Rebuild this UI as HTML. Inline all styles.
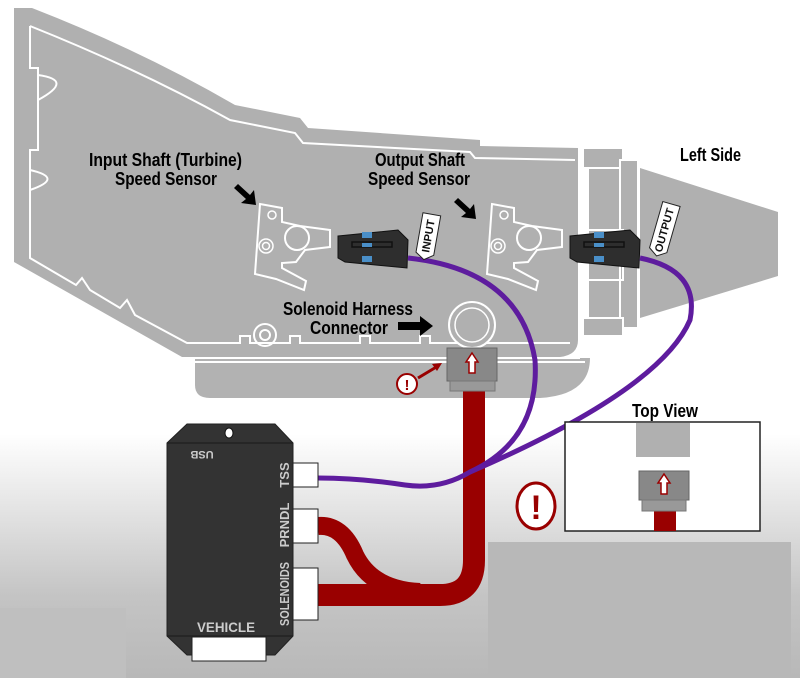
<!DOCTYPE html>
<html><head><meta charset="utf-8"><style>
html,body{margin:0;padding:0;background:#fff}
svg{display:block}
.t{font-family:"Liberation Sans Narrow","Liberation Sans",sans-serif;font-weight:bold}
</style></head><body>
<svg width="800" height="678" viewBox="0 0 800 678" xmlns="http://www.w3.org/2000/svg">
<defs>
<linearGradient id="bg" x1="0" y1="0" x2="0" y2="1">
<stop offset="0" stop-color="#fff"/><stop offset="0.64" stop-color="#fff"/><stop offset="0.88" stop-color="#c4c4c4"/><stop offset="1" stop-color="#b8b8b8"/>
</linearGradient>
<g id="sensor">
<path d="M260,204 L282,208 L282,222 L300,226 L330,230 L330,247 L305,250 L296,262 L282,263 L282,268 L306,281 L304,290 L276,279 L255,274 Z" fill="none" stroke="#fff" stroke-width="2"/>
<circle cx="272" cy="215" r="4" fill="none" stroke="#fff" stroke-width="1.5"/>
<circle cx="266" cy="246" r="7" fill="none" stroke="#fff" stroke-width="1.5"/>
<circle cx="266" cy="246" r="3.5" fill="none" stroke="#fff" stroke-width="1.5"/>
<circle cx="297" cy="238" r="12" fill="#b0b0b0" stroke="#fff" stroke-width="2"/>
<path d="M338,236 L398,230 L408,240 L407,268 L345,262 L338,258 Z" fill="#2e2e2e" stroke="#111" stroke-width="1"/>
<rect x="352" y="242" width="40" height="5" fill="none" stroke="#111" stroke-width="1.5"/>
<rect x="362" y="232" width="10" height="6" fill="#4a8fc8"/>
<rect x="362" y="243" width="10" height="4" fill="#4a8fc8"/>
<rect x="362" y="256" width="10" height="6" fill="#4a8fc8"/>
</g>
</defs>
<rect width="800" height="678" fill="url(#bg)"/>
<rect x="0" y="608" width="126" height="70" fill="#bfbfbf"/>
<rect x="488" y="542" width="303" height="136" fill="#b8b8b8"/>

<path d="M195,358 L590,358 Q590,395 540,398 L210,398 Q195,398 195,385 Z" fill="#b2b2b2"/>
<path d="M640,168 L778,212 L778,276 L640,318 Z" fill="#b0b0b0"/>
<path d="M14,8 L32,8 Q140,50 235,105 L300,118 L308,128 L480,140 L480,146 L578,148 L578,340 Q578,355 560,357 L182,357 L14,262 Z" fill="#b0b0b0"/>
<path d="M30,26 Q140,70 230,120 L295,133 L303,143 L470,152 L475,158 L575,160" fill="none" stroke="#fff" stroke-width="2"/>
<path d="M30,26 L30,68 L38,68 L38,150 L30,150 L30,258 L76,285 L82,278 L90,290 L120,308 L127,300 L135,315 L187,343 L240,343 L240,336 L250,336 L250,343 L290,343 L290,336 L300,336 L300,343 L360,343 L360,336 L370,336 L370,343 L420,343 L420,336 L430,336 L430,343 L570,343" fill="none" stroke="#fff" stroke-width="2"/>
<path d="M38,75 Q75,80 38,100 M30,170 Q65,178 30,190" fill="none" stroke="#fff" stroke-width="2"/>
<path d="M180,358 L580,358 M120,362 L585,362" stroke="#fff" stroke-width="2"/>
<circle cx="265" cy="335" r="11" fill="none" stroke="#fff" stroke-width="2"/>
<circle cx="265" cy="335" r="5" fill="none" stroke="#fff" stroke-width="2"/>
<rect x="583" y="148" width="40" height="20" fill="#b0b0b0" stroke="#fff" stroke-width="2"/>
<rect x="588" y="168" width="32" height="150" fill="#b0b0b0" stroke="#fff" stroke-width="2"/>
<rect x="620" y="160" width="18" height="168" fill="#b0b0b0" stroke="#fff" stroke-width="2"/>
<rect x="583" y="318" width="40" height="18" fill="#b0b0b0" stroke="#fff" stroke-width="2"/>
<rect x="583" y="230" width="40" height="50" fill="none" stroke="#fff" stroke-width="2"/>

<circle cx="472" cy="325" r="23" fill="#b0b0b0" stroke="#fff" stroke-width="2"/>
<circle cx="472" cy="325" r="17" fill="none" stroke="#fff" stroke-width="1.5"/>

<path d="M474,390 L474,560 Q474,595 440,595 L318,595" fill="none" stroke="#990000" stroke-width="22"/>
<path d="M318,526 Q342,524 355,555 Q372,590 420,592" fill="none" stroke="#990000" stroke-width="18"/>

<use href="#sensor"/>
<use href="#sensor" transform="translate(232,0)"/>

<path d="M408,258 Q520,270 535,360 Q540,440 470,472" fill="none" stroke="#5e1c9e" stroke-width="5"/>
<path d="M640,258 Q700,270 690,320 Q660,390 470,472 Q440,490 405,485 Q360,478 318,478" fill="none" stroke="#5e1c9e" stroke-width="5"/>

<g transform="translate(428,236) rotate(10)"><path d="M-9,-22 L9,-22 L9,18 L0,24 L-9,18 Z" fill="#fff" stroke="#222" stroke-width="1"/><text class="t" transform="rotate(-90)" x="0" y="4" font-size="11" text-anchor="middle" fill="#111">INPUT</text></g>
<g transform="translate(664,230) rotate(16)"><path d="M-9,-27 L9,-27 L9,21 L0,27 L-9,21 Z" fill="#fff" stroke="#222" stroke-width="1"/><text class="t" transform="rotate(-90)" x="0" y="4" font-size="11" text-anchor="middle" fill="#111">OUTPUT</text></g>

<rect x="447" y="348" width="50" height="33" fill="#888" stroke="#666"/>
<rect x="450" y="381" width="45" height="10" fill="#999" stroke="#777"/>
<path d="M472,353 L478,362 L475,362 L475,373 L469,373 L469,362 L466,362 Z" fill="#fff" stroke="#900" stroke-width="1.5"/>
<circle cx="407" cy="384" r="10" fill="#fff" stroke="#900" stroke-width="2"/>
<text class="t" x="407" y="390" font-size="15" text-anchor="middle" fill="#900">!</text>
<path d="M418,378 L438,366" stroke="#900" stroke-width="3"/><path d="M442,363 L432,364 L437,371 Z" fill="#900"/>

<g class="t" font-size="18" fill="#000">
<text x="89" y="166" textLength="153" lengthAdjust="spacingAndGlyphs">Input Shaft (Turbine)</text>
<text x="115" y="185" textLength="102" lengthAdjust="spacingAndGlyphs">Speed Sensor</text>
<text x="375" y="166" textLength="90" lengthAdjust="spacingAndGlyphs">Output Shaft</text>
<text x="368" y="185" textLength="102" lengthAdjust="spacingAndGlyphs">Speed Sensor</text>
<text x="283" y="315" textLength="130" lengthAdjust="spacingAndGlyphs">Solenoid Harness</text>
<text x="310" y="334" textLength="78" lengthAdjust="spacingAndGlyphs">Connector</text>
<text x="680" y="161" textLength="61" lengthAdjust="spacingAndGlyphs">Left Side</text>
<text x="632" y="417" textLength="66" lengthAdjust="spacingAndGlyphs">Top View</text>
</g>
<path d="M238,184 L250,195 L254,190 L256,205 L241,203 L246,199 L234,188 Z" fill="#000"/>
<path d="M458,198 L470,209 L474,204 L476,219 L461,217 L466,213 L454,202 Z" fill="#000"/>
<path d="M398,322 L420,322 L420,316 L433,326 L420,336 L420,330 L398,330 Z" fill="#000"/>

<path d="M187,424 L275,424 L293,443 L293,636 L275,655 L187,655 L167,636 L167,443 Z" fill="#333" stroke="#222"/>
<path d="M167,443 L293,443 M167,636 L293,636" stroke="#222" stroke-width="1.5"/>
<ellipse cx="229" cy="433" rx="4" ry="5" fill="#fff" stroke="#111"/>
<text class="t" font-size="11" fill="#ccc" transform="translate(202,451) rotate(180)" text-anchor="middle">USB</text>
<text class="t" font-size="14" fill="#ccc" x="197" y="632" textLength="58" lengthAdjust="spacingAndGlyphs">VEHICLE</text>
<rect x="293" y="463" width="25" height="24" fill="#fff" stroke="#222"/>
<rect x="293" y="509" width="25" height="34" fill="#fff" stroke="#222"/>
<rect x="293" y="568" width="25" height="52" fill="#fff" stroke="#222"/>
<rect x="192" y="637" width="74" height="24" fill="#fff" stroke="#222"/>
<text class="t" font-size="13" fill="#ccc" transform="translate(289,475) rotate(-90)" text-anchor="middle">TSS</text>
<text class="t" font-size="13" fill="#ccc" transform="translate(289,525) rotate(-90)" text-anchor="middle">PRNDL</text>
<text class="t" font-size="13" fill="#ccc" transform="translate(289,594) rotate(-90)" text-anchor="middle" textLength="64" lengthAdjust="spacingAndGlyphs">SOLENOIDS</text>

<ellipse cx="536" cy="506" rx="19" ry="23" fill="#fff" stroke="#900" stroke-width="3"/>
<text class="t" x="536" y="519" font-size="34" text-anchor="middle" fill="#900">!</text>

<rect x="565" y="422" width="195" height="109" fill="#fff" stroke="#222" stroke-width="1.5"/>
<rect x="636" y="423" width="54" height="34" fill="#b0b0b0"/>
<rect x="654" y="510" width="22" height="21" fill="#990000"/>
<rect x="639" y="471" width="50" height="29" fill="#888" stroke="#666"/>
<rect x="642" y="500" width="44" height="11" fill="#999" stroke="#777"/>
<path d="M664,474 L670,483 L667,483 L667,494 L661,494 L661,483 L658,483 Z" fill="#fff" stroke="#900" stroke-width="1.5"/>
</svg>
</body></html>
